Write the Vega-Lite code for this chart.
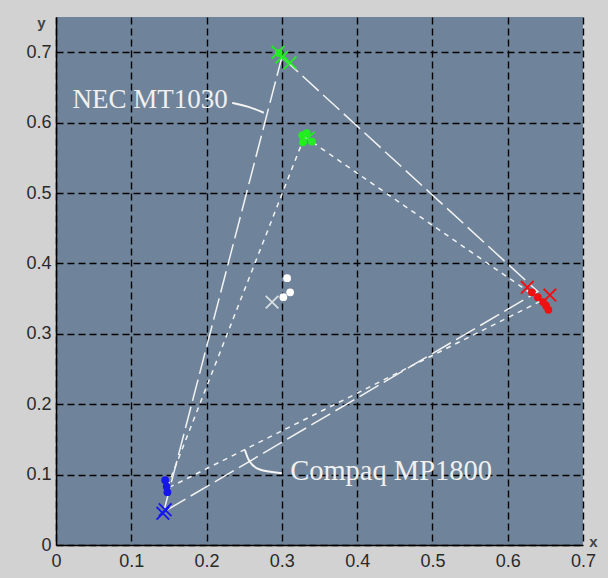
{
  "$schema": "https://vega.github.io/schema/vega-lite/v6.json",
  "width": 527,
  "height": 528,
  "autosize": {"type": "none"},
  "padding": {"left": 56, "top": 17, "right": 25, "bottom": 33},
  "background": "#d2d2d2",
  "config": {
    "view": {"fill": "#6f849a", "stroke": null},
    "axis": {
      "grid": true,
      "gridColor": "#000000",
      "gridDash": [7, 4],
      "gridWidth": 1.4,
      "domainColor": "#000000",
      "domainWidth": 1.5,
      "tickSize": 0,
      "labelFont": "Liberation Sans",
      "labelFontSize": 18,
      "labelColor": "#2a2a2a",
      "labelFlush": false,
      "format": "~g",
      "titleFont": "Liberation Sans",
      "titleFontSize": 15,
      "titleFontWeight": "bold",
      "titleColor": "#444444",
      "titleAngle": 0,
      "titleBaseline": "middle",
      "titleAlign": "center"
    }
  },
  "datasets": {
    "tri": [
      {"series": "NEC MT1030", "ord": 0, "x": 0.300, "y": 0.693},
      {"series": "NEC MT1030", "ord": 1, "x": 0.640, "y": 0.360},
      {"series": "NEC MT1030", "ord": 2, "x": 0.143, "y": 0.047},
      {"series": "NEC MT1030", "ord": 3, "x": 0.300, "y": 0.693},
      {"series": "Compaq MP1800", "ord": 0, "x": 0.330, "y": 0.580},
      {"series": "Compaq MP1800", "ord": 1, "x": 0.645, "y": 0.347},
      {"series": "Compaq MP1800", "ord": 2, "x": 0.147, "y": 0.080},
      {"series": "Compaq MP1800", "ord": 3, "x": 0.330, "y": 0.580}
    ],
    "pointers": [
      {"series": "NEC", "ord": 0, "x": 0.234, "y": 0.628},
      {"series": "NEC", "ord": 1, "x": 0.256, "y": 0.623},
      {"series": "NEC", "ord": 2, "x": 0.276, "y": 0.614},
      {"series": "Compaq", "ord": 0, "x": 0.251, "y": 0.135},
      {"series": "Compaq", "ord": 1, "x": 0.256, "y": 0.118},
      {"series": "Compaq", "ord": 2, "x": 0.267, "y": 0.106},
      {"series": "Compaq", "ord": 3, "x": 0.300, "y": 0.102}
    ],
    "xs": [
      {"x": 0.295, "y": 0.700, "c": "#22ee22"},
      {"x": 0.300, "y": 0.693, "c": "#22ee22"},
      {"x": 0.311, "y": 0.685, "c": "#22ee22"},
      {"x": 0.335, "y": 0.578, "c": "#22ee22"},
      {"x": 0.626, "y": 0.366, "c": "#ee1111"},
      {"x": 0.656, "y": 0.355, "c": "#ee1111"},
      {"x": 0.142, "y": 0.045, "c": "#1515ee"},
      {"x": 0.145, "y": 0.050, "c": "#1515ee"},
      {"x": 0.287, "y": 0.345, "c": "#d8dde2"}
    ],
    "dots": [
      {"x": 0.296, "y": 0.699, "c": "#22ee22"},
      {"x": 0.327, "y": 0.582, "c": "#22ee22"},
      {"x": 0.333, "y": 0.585, "c": "#22ee22"},
      {"x": 0.340, "y": 0.573, "c": "#22ee22"},
      {"x": 0.328, "y": 0.572, "c": "#22ee22"},
      {"x": 0.632, "y": 0.359, "c": "#ee1111"},
      {"x": 0.640, "y": 0.352, "c": "#ee1111"},
      {"x": 0.647, "y": 0.345, "c": "#ee1111"},
      {"x": 0.651, "y": 0.340, "c": "#ee1111"},
      {"x": 0.654, "y": 0.334, "c": "#ee1111"},
      {"x": 0.145, "y": 0.092, "c": "#1515ee"},
      {"x": 0.147, "y": 0.083, "c": "#1515ee"},
      {"x": 0.148, "y": 0.075, "c": "#1515ee"},
      {"x": 0.307, "y": 0.379, "c": "#ffffff"},
      {"x": 0.311, "y": 0.359, "c": "#ffffff"},
      {"x": 0.302, "y": 0.352, "c": "#ffffff"}
    ],
    "labels": [
      {"x": 0.022, "y": 0.632, "t": "NEC MT1030"},
      {"x": 0.311, "y": 0.105, "t": "Compaq MP1800"}
    ]
  },
  "layer": [
    {
      "data": {"name": "tri"},
      "mark": {"type": "line", "color": "#f2f2f2", "strokeWidth": 1.5},
      "encoding": {
        "x": {"field": "x", "type": "quantitative", "scale": {"domain": [0, 0.7], "nice": false},
              "axis": {"values": [0, 0.1, 0.2, 0.3, 0.4, 0.5, 0.6, 0.7], "title": "x", "titleX": 537, "titleY": -4, "labelPadding": 7}},
        "y": {"field": "y", "type": "quantitative", "scale": {"domain": [0, 0.75], "nice": false},
              "axis": {"values": [0, 0.1, 0.2, 0.3, 0.4, 0.5, 0.6, 0.7], "title": "y", "titleX": -15, "titleY": 5, "labelPadding": 5}},
        "detail": {"field": "series"},
        "order": {"field": "ord"},
        "strokeDash": {"field": "series", "type": "nominal",
                       "scale": {"domain": ["NEC MT1030", "Compaq MP1800"], "range": [[22, 6], [5, 5]]}, "legend": null}
      }
    },
    {
      "data": {"name": "pointers"},
      "mark": {"type": "line", "color": "#f4f4f4", "strokeWidth": 2, "interpolate": "basis"},
      "encoding": {
        "x": {"field": "x", "type": "quantitative"},
        "y": {"field": "y", "type": "quantitative"},
        "detail": {"field": "series"},
        "order": {"field": "ord"}
      }
    },
    {
      "data": {"name": "xs"},
      "mark": {"type": "point", "shape": "M-1,-1L1,1M-1,1L1,-1", "filled": false, "strokeWidth": 1.8, "size": 160, "opacity": 1},
      "encoding": {
        "x": {"field": "x", "type": "quantitative"},
        "y": {"field": "y", "type": "quantitative"},
        "color": {"field": "c", "type": "nominal", "scale": null}
      }
    },
    {
      "data": {"name": "dots"},
      "mark": {"type": "circle", "size": 60, "opacity": 1},
      "encoding": {
        "x": {"field": "x", "type": "quantitative"},
        "y": {"field": "y", "type": "quantitative"},
        "color": {"field": "c", "type": "nominal", "scale": null}
      }
    },
    {
      "data": {"name": "labels"},
      "transform": [{"filter": "datum.t === 'NEC MT1030'"}],
      "mark": {"type": "text", "align": "left", "baseline": "middle", "font": "Liberation Serif", "fontSize": 27, "color": "#f0f0f0"},
      "encoding": {
        "x": {"field": "x", "type": "quantitative"},
        "y": {"field": "y", "type": "quantitative"},
        "text": {"field": "t"}
      }
    },
    {
      "data": {"name": "labels"},
      "transform": [{"filter": "datum.t === 'Compaq MP1800'"}],
      "mark": {"type": "text", "align": "left", "baseline": "middle", "font": "Liberation Serif", "fontSize": 28.5, "color": "#f0f0f0"},
      "encoding": {
        "x": {"field": "x", "type": "quantitative"},
        "y": {"field": "y", "type": "quantitative"},
        "text": {"field": "t"}
      }
    }
  ]
}
